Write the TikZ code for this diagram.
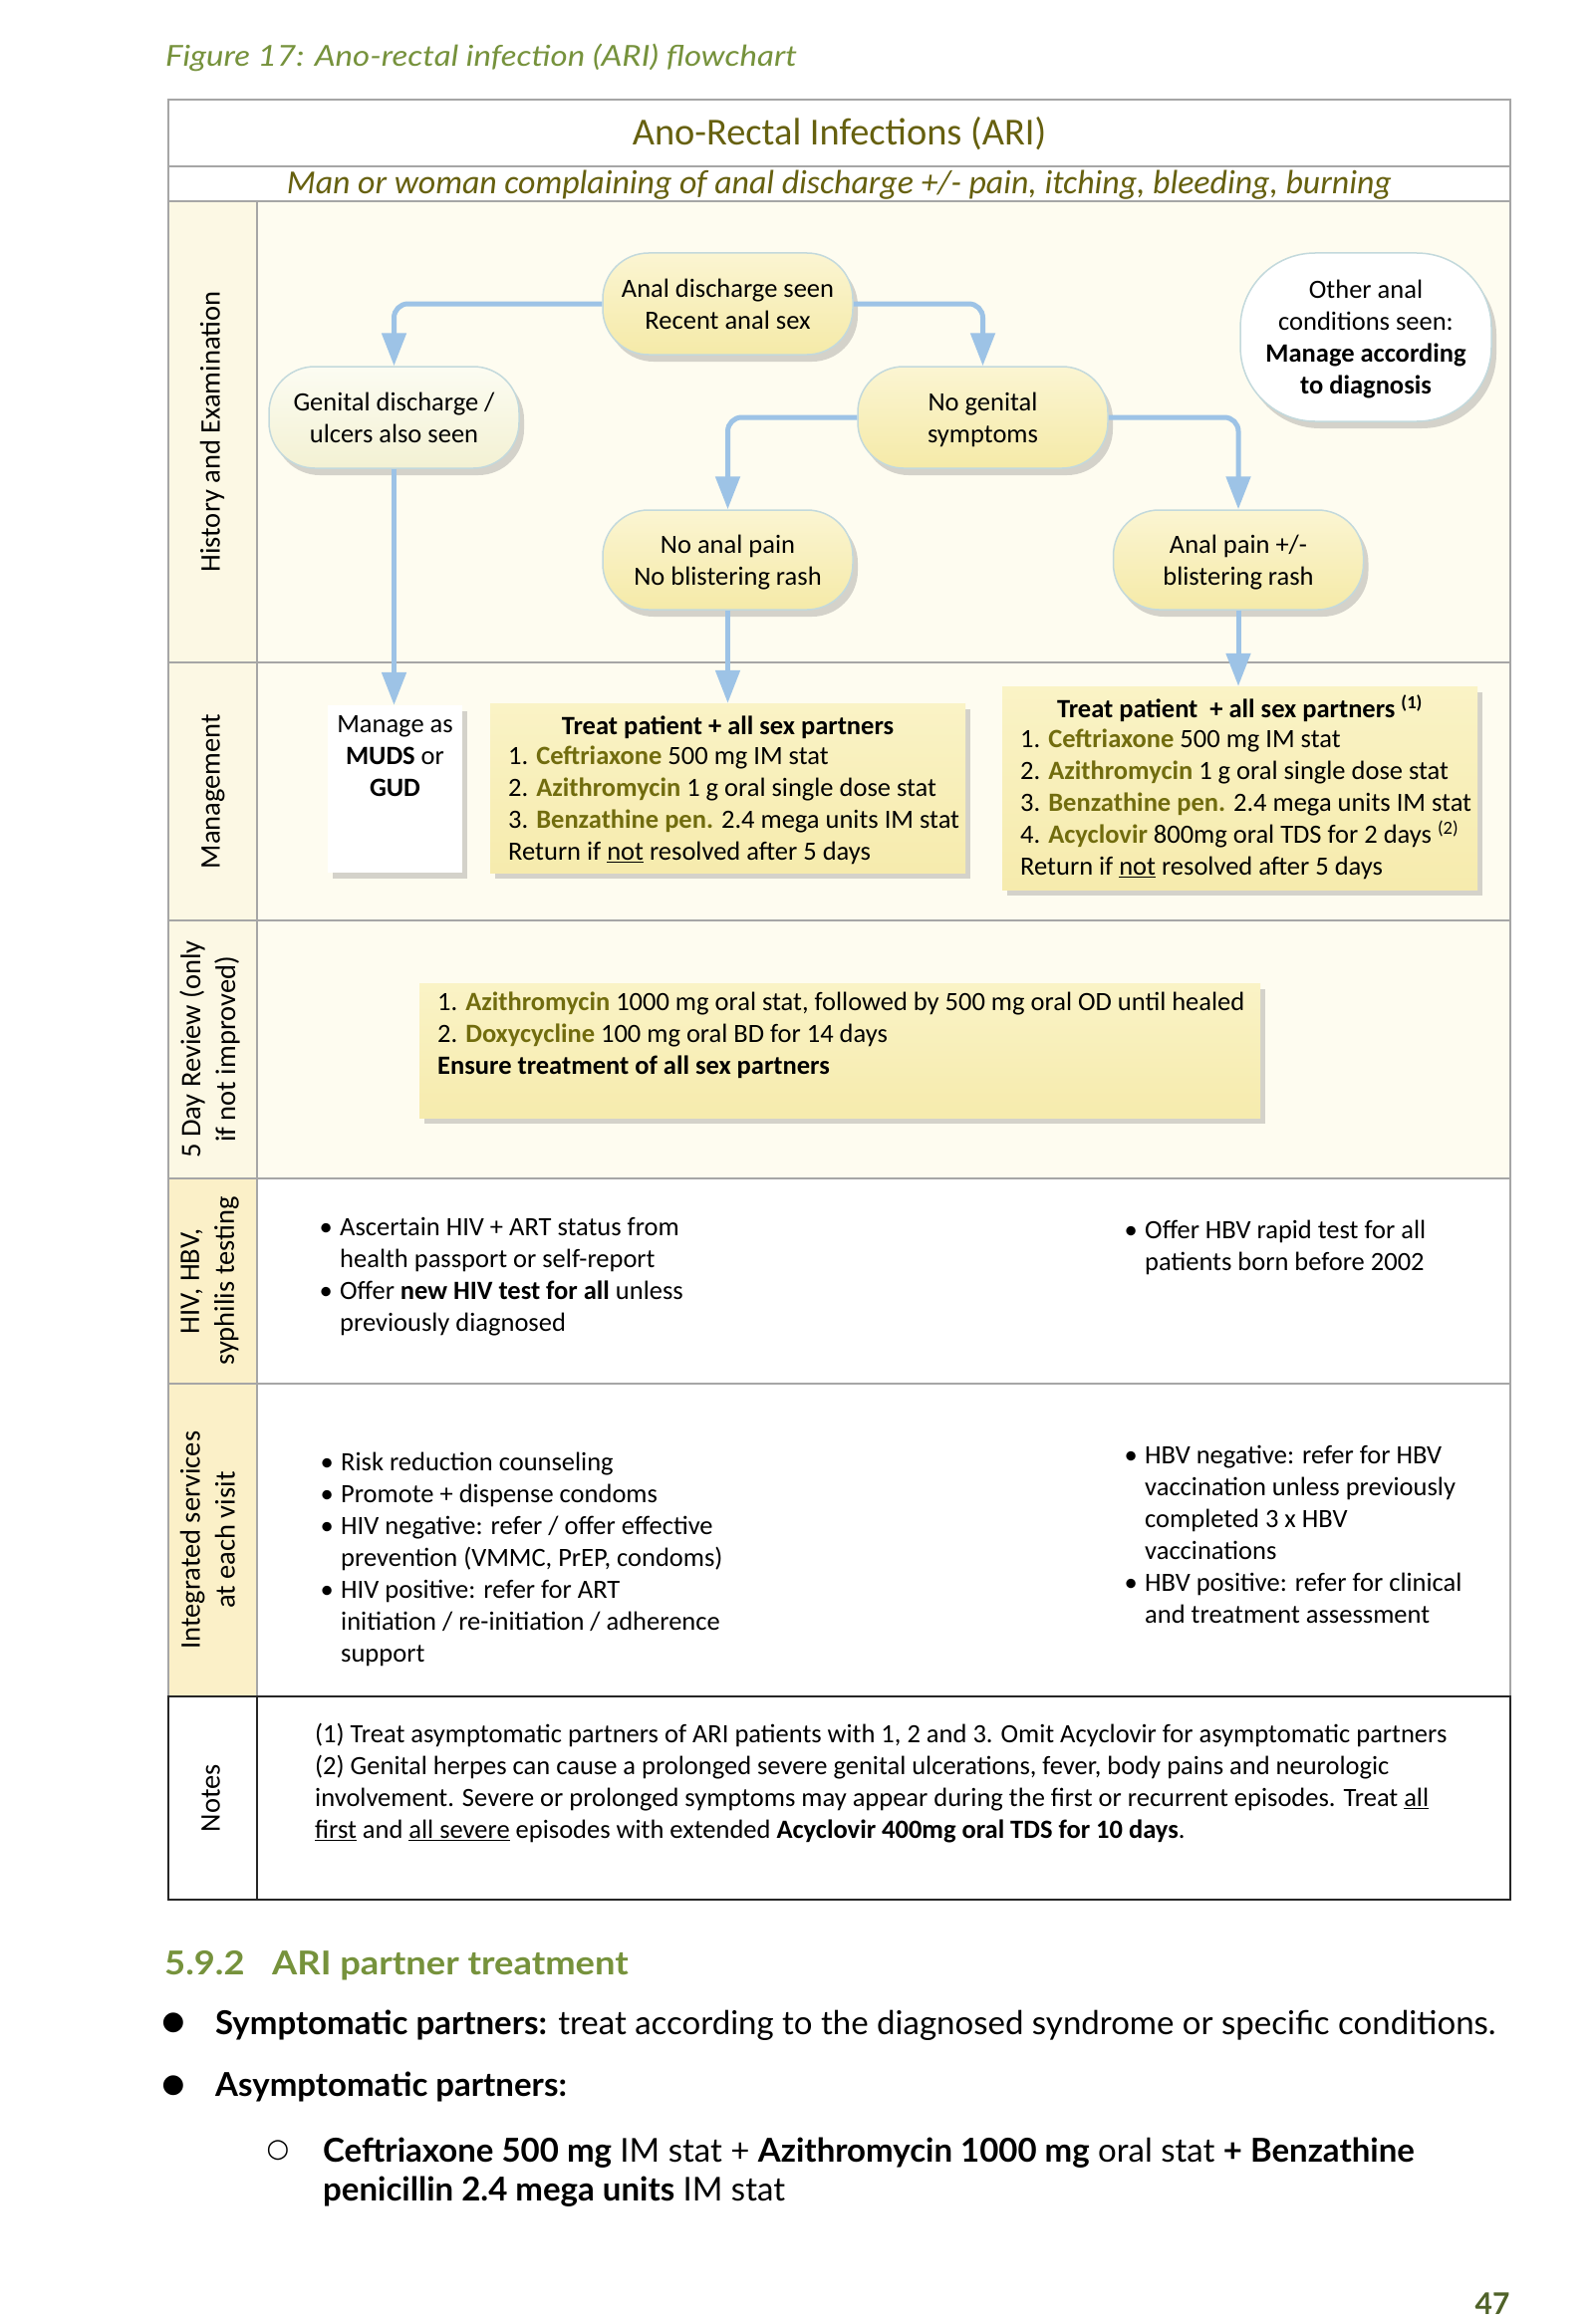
\documentclass[tikz,border=0pt]{standalone}
\usepackage{fontspec}
\setmainfont{Carlito}
\newfontfamily\aptfont{Lato}
\newfontfamily\aptcap[FakeStretch=1.14]{Lato}
\newfontfamily\aptwide[FakeStretch=1.1]{Lato}
\newfontfamily\djvfont{DejaVu Sans}
\usetikzlibrary{arrows.meta,shadows}
\definecolor{olv}{HTML}{66600F}
\definecolor{drug}{HTML}{716C0E}
\definecolor{capgreen}{HTML}{76923C}
\definecolor{pgnum}{HTML}{4F6228}
\definecolor{gridc}{HTML}{A6A6A6}
\definecolor{cream}{HTML}{FEFCF0}
\definecolor{labcream}{HTML}{FCF8E4}
\definecolor{labyel}{HTML}{FBF0C8}
\definecolor{arr}{HTML}{9DC3E6}
\definecolor{pillbd}{HTML}{C3D9DC}
\definecolor{pilltop}{HTML}{FBF5D2}
\definecolor{pillbot}{HTML}{F5EAA8}
\definecolor{gdtop}{HTML}{FCFCF2}
\definecolor{gdbot}{HTML}{F3F1D3}
\definecolor{boxtop}{HTML}{FAF3C6}
\definecolor{boxbot}{HTML}{F6EBAD}
\newcommand{\fsbody}{\fontsize{26.5}{32}\selectfont}
\newcommand{\fslab}{\fontsize{28.5}{35}\selectfont}
\newcommand{\dr}[1]{\textbf{\textcolor{drug}{#1}}}
\newcommand{\bl}{\leavevmode\llap{\textbullet\hspace{7.5pt}}}
\newcommand{\bstrut}{\rule[-5.5pt]{0pt}{32.9pt}}
\newcommand{\ts}{\rule{0pt}{24pt}}
\tikzset{
  txt0/.style={inner sep=0pt, execute at begin node=\strut, execute at end node=\strut},
  txt/.style={inner sep=0pt, font=\fsbody, execute at begin node=\bstrut, execute at end node=\bstrut},
  pillbase/.style={txt, align=center, draw=pillbd, line width=1.5pt, rounded corners=46pt,
    minimum width=251pt, minimum height=102pt,
    drop shadow={shadow xshift=5pt, shadow yshift=-7pt, opacity=0.3, fill=black!55}},
  pill/.style={pillbase, top color=pilltop, bottom color=pillbot},
  mbox/.style={draw=none, inner sep=0pt,
    drop shadow={shadow xshift=5pt, shadow yshift=-6pt, opacity=0.3, fill=black!55}},
  ybox/.style={mbox, top color=boxtop, bottom color=boxbot},
  lab/.style={txt0, font=\fslab, align=center, rotate=90},
  arrowst/.style={draw=arr, line width=5pt, rounded corners=14pt, -{Triangle[length=33pt,width=24pt]}},
  gridl/.style={draw=gridc, line width=2pt},
  body/.style={txt, anchor=north west, align=left},
}
\begin{document}
\begin{tikzpicture}[x=1pt,y=-1pt]
\useasboundingbox (0,0) rectangle (1600,2333);
\fill[white] (0,0) rectangle (1600,2333);
% caption
\node[anchor=base west, inner sep=0pt, font=\aptcap\itshape\fontsize{29}{35}\selectfont, text=capgreen] (cap) at (166,67) {Figure 17: Ano-rectal infection (ARI) flowchart};
% fills
\fill[cream] (258,202) rectangle (1516,1183);
\fill[labcream] (169,202) rectangle (258,1183);
\fill[labyel] (169,1183) rectangle (258,1703);
% grid
\draw[gridl] (169,100) rectangle (1516,1703);
\foreach \yy in {167,202,665,924,1183,1389} \draw[gridl] (169,\yy) -- (1516,\yy);
\draw[gridl] (258,202) -- (258,1703);
\draw[line width=2pt, draw=black!85] (169,1703) rectangle (1516,1907);
\draw[line width=2pt, draw=black!85] (258,1703) -- (258,1907);
% titles
\node[anchor=base, inner sep=0pt, font=\fontsize{38.4}{46}\selectfont, text=olv] (ttl) at (842.5,146) {Ano-Rectal Infections (ARI)};
\node[anchor=base, inner sep=0pt, font=\itshape\fontsize{33.8}{40}\selectfont, text=olv] (sub) at (842.5,195) {Man or woman complaining of anal discharge +/- pain, itching, bleeding, burning};
% row labels
\node[lab] (l1) at (213.5,433.5) {History and Examination};
\node[lab] (l2) at (213.5,794.5) {Management};
\node[lab] (l3) at (213.5,1053.5) {5 Day Review (only\\if not improved)};
\node[lab] (l4) at (213.5,1286) {HIV, HBV,\\syphilis testing};
\node[lab] (l5) at (213.5,1546) {Integrated services\\at each visit};
\node[lab] (l6) at (213.5,1805) {Notes};
% pills
\node[pill] (ad) at (730.5,305) {\ts Anal discharge seen\\Recent anal sex};
\node[pillbase, top color=gdtop, bottom color=gdbot] (gd) at (395.5,419) {\ts Genital discharge /\\ulcers also seen};
\node[pill] (ng) at (986.5,419) {\ts No genital\\symptoms};
\node[pill, minimum height=100pt] (nap) at (730.5,562) {\ts No anal pain\\No blistering rash};
\node[pill, minimum height=100pt] (ap) at (1243,562) {\ts Anal pain +/-\\blistering rash};
\node[pillbase, fill=white, minimum width=252pt, minimum height=169pt, rounded corners=75pt] (oth) at (1371,338.5) {\ts Other anal\\conditions seen:\\\textbf{Manage according}\\\textbf{to diagnosis}};
% management boxes
\node[mbox, fill=white, minimum width=135pt, minimum height=168pt] (mg) at (396.5,792) {};
\node[txt, align=center] (mgt) at (396.5,758.5) {\ts Manage as\\\textbf{MUDS} or\\\textbf{GUD}};
\node[ybox, minimum width=477pt, minimum height=170pt] (t1) at (730.5,791) {};
\node[txt, font=\fsbody\bfseries] (t1h) at (730.5,727) {Treat patient + all sex partners};
\node[body] (t1b) at (510,743) {\ts 1. \dr{Ceftriaxone} 500 mg IM stat\\2. \dr{Azithromycin} 1 g oral single dose stat\\3. \dr{Benzathine pen.} 2.4 mega units IM stat\\Return if \underline{not} resolved after 5 days};
\node[ybox, minimum width=477pt, minimum height=204pt] (t2) at (1244.5,791) {};
\node[txt, font=\fsbody\bfseries] (t2h) at (1244.5,710) {Treat patient \ + all sex partners \textsuperscript{(1)}};
\node[body] (t2b) at (1024,726) {\ts 1. \dr{Ceftriaxone} 500 mg IM stat\\2. \dr{Azithromycin} 1 g oral single dose stat\\3. \dr{Benzathine pen.} 2.4 mega units IM stat\\4. \dr{Acyclovir} 800mg oral TDS for 2 days \textsuperscript{(2)}\\Return if \underline{not} resolved after 5 days};
% 5 day review
\node[ybox, minimum width=844pt, minimum height=135pt] (r5) at (843,1054.5) {};
\node[body] (r5b) at (439,990) {\ts 1. \dr{Azithromycin} 1000 mg oral stat, followed by 500 mg oral OD until healed\\2. \dr{Doxycycline} 100 mg oral BD for 14 days\\\textbf{Ensure treatment of all sex partners}};
% HIV testing
\node[body] (hl) at (341,1216) {\ts\bl Ascertain HIV + ART status from\\health passport or self-report\\\bl Offer \textbf{new HIV test for all} unless\\previously diagnosed};
\node[body] (hr) at (1149,1219) {\ts\bl Offer HBV rapid test for all\\patients born before 2002};
% integrated services
\node[body] (il) at (342,1452) {\ts\bl Risk reduction counseling\\\bl Promote + dispense condoms\\\bl HIV negative: refer / offer effective\\prevention (VMMC, PrEP, condoms)\\\bl HIV positive: refer for ART\\initiation / re-initiation / adherence\\support};
\node[body] (ir) at (1149,1445) {\ts\bl HBV negative: refer for HBV\\vaccination unless previously\\completed 3 x HBV\\vaccinations\\\bl HBV positive: refer for clinical\\and treatment assessment};
% notes
\node[body] (nt) at (316,1725) {\ts (1) Treat asymptomatic partners of ARI patients with 1, 2 and 3. Omit Acyclovir for asymptomatic partners\\(2) Genital herpes can cause a prolonged severe genital ulcerations, fever, body pains and neurologic\\involvement. Severe or prolonged symptoms may appear during the first or recurrent episodes. Treat \underline{all}\\\underline{first} and \underline{all severe} episodes with extended \textbf{Acyclovir 400mg oral TDS for 10 days}.};
% arrows
\draw[arrowst] (ad.west) -| (gd.north);
\draw[arrowst] (ad.east) -| (ng.north);
\draw[arrowst] (ng.west) -| (nap.north);
\draw[arrowst] (ng.east) -| (ap.north);
\draw[arrowst] (gd.south) -- (gd.south |- mg.north);
\draw[arrowst] (nap.south) -- (nap.south |- t1.north);
\draw[arrowst] (ap.south) -- (ap.south |- t2.north);
% partner treatment section
\node[anchor=base west, inner sep=0pt, font=\aptwide\bfseries\fontsize{33}{39}\selectfont, text=capgreen] (hn) at (165,1982) {5.9.2};
\node[anchor=base west, inner sep=0pt, font=\aptwide\bfseries\fontsize{33}{39}\selectfont, text=capgreen] (ht) at (273,1982) {ARI partner treatment};
\node[inner sep=0pt, font=\djvfont\fontsize{26}{30}\selectfont] (b1) at (174,2031) {●};
\node[anchor=base west, inner sep=0pt, font=\aptfont\fontsize{33}{39}\selectfont] (s1) at (216,2042) {\textbf{Symptomatic partners:} treat according to the diagnosed syndrome or specific conditions.};
\node[inner sep=0pt, font=\djvfont\fontsize{26}{30}\selectfont] (b2) at (174,2094) {●};
\node[anchor=base west, inner sep=0pt, font=\aptfont\fontsize{33}{39}\selectfont] (s2) at (216,2104.5) {\textbf{Asymptomatic partners:}};
\node[inner sep=0pt, font=\djvfont\fontsize{26}{30}\selectfont] (b3) at (279,2159) {○};
\node[txt0, anchor=north west, align=left, font=\aptfont\fontsize{33}{39}\selectfont] (s3) at (324,2142.7) {\rule{0pt}{27.3pt}\textbf{Ceftriaxone 500 mg} IM stat + \textbf{Azithromycin 1000 mg} oral stat \textbf{+ Benzathine}\\\textbf{penicillin 2.4 mega units} IM stat};
\node[inner sep=0pt, font=\aptfont\bfseries\fontsize{30}{36}\selectfont, text=pgnum] (pg) at (1498,2313) {47};
\end{tikzpicture}
\end{document}
